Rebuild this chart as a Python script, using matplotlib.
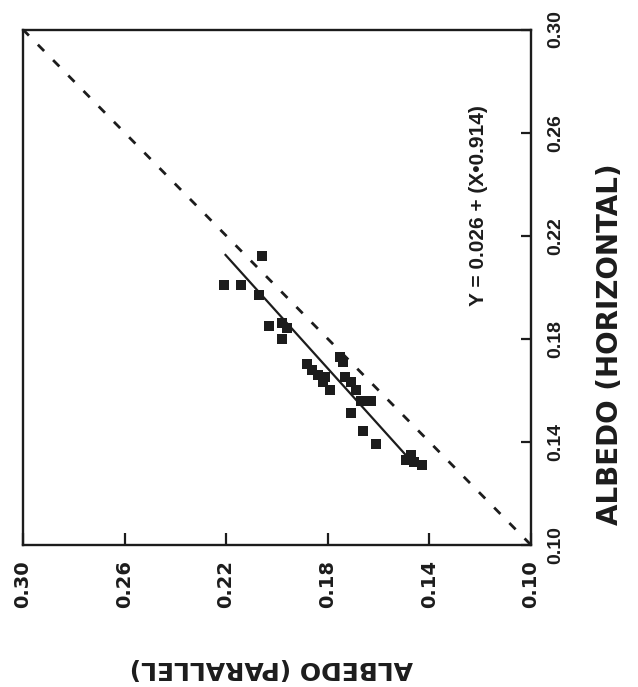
import numpy as np
import matplotlib.pyplot as plt

# 数据：水平反照率 X 与平行反照率 Y
albedo_horizontal = [0.212, 0.201, 0.201, 0.197, 0.185, 0.186, 0.184, 0.180,
                     0.173, 0.171, 0.170, 0.168, 0.166, 0.163, 0.160, 0.165,
                     0.163, 0.160, 0.156, 0.156, 0.151, 0.144, 0.139, 0.135,
                     0.133, 0.132, 0.131, 0.165]
albedo_parallel = [0.206, 0.221, 0.214, 0.207, 0.203, 0.198, 0.196, 0.198,
                   0.175, 0.174, 0.188, 0.186, 0.184, 0.182, 0.179, 0.173,
                   0.171, 0.169, 0.167, 0.163, 0.171, 0.166, 0.161, 0.147,
                   0.149, 0.146, 0.143, 0.181]

# 回归线 Y = 0.026 + 0.914 X
FIT_A = 0.026
FIT_B = 0.914
fit_x = np.array([0.1345, 0.2125])

tick_vals = [0.30, 0.26, 0.22, 0.18, 0.14, 0.10]
tick_labels = ['0.30', '0.26', '0.22', '0.18', '0.14', '0.10']

INK = '#1c1c1c'

fig = plt.figure(figsize=(6.38, 6.87), dpi=100)
ax = fig.add_axes([0.036, 0.207, 0.796, 0.750])

# 图整体旋转了90度：横向为平行反照率（反向），纵向为水平反照率
ax.plot([0.10, 0.30], [0.10, 0.30], color=INK, lw=2.0,
        linestyle=(0, (3.2, 4.6)))
ax.plot(FIT_A + FIT_B * fit_x, fit_x, color=INK, lw=1.6)
ax.plot(albedo_parallel, albedo_horizontal, 's', color=INK, ms=7,
        markeredgewidth=0)

ax.set_xlim(0.30, 0.10)
ax.set_ylim(0.10, 0.30)

for s in ax.spines.values():
    s.set_linewidth(1.7)
    s.set_color(INK)

ax.set_xticks(tick_vals)
ax.set_xticklabels(tick_labels, rotation=90, fontsize=14, fontweight='bold',
                   family='DejaVu Sans', color=INK)
ax.yaxis.tick_right()
ax.set_yticks(tick_vals[::-1])
ax.set_yticklabels(tick_labels[::-1], rotation=90, va='center', fontsize=14,
                   fontweight='bold', family='Liberation Sans', color=INK)
ax.tick_params(axis='x', direction='in', length=9, width=1.6, pad=11,
               color=INK)
ax.tick_params(axis='y', direction='in', length=7, width=1.6, pad=12,
               color=INK)

ax.set_xlabel('ALBEDO (PARALLEL)', rotation=180, fontsize=18,
              fontweight='bold', family='DejaVu Sans', color=INK, va='center')
ax.xaxis.set_label_coords(0.49, -0.239)
ax.yaxis.set_label_position('right')
ax.set_ylabel('ALBEDO (HORIZONTAL)', rotation=90, fontsize=20,
              fontweight='bold', family='DejaVu Sans', color=INK, va='center')
ax.yaxis.set_label_coords(1.155, 0.39)

# 回归方程
ax.text(0.1205, 0.2315, 'Y = 0.026 + (X\u20220.914)', rotation=90,
        ha='center', va='center', fontsize=15, fontweight='bold',
        family='Liberation Sans', color=INK)

fig.savefig('out.png', dpi=100, facecolor='white')
